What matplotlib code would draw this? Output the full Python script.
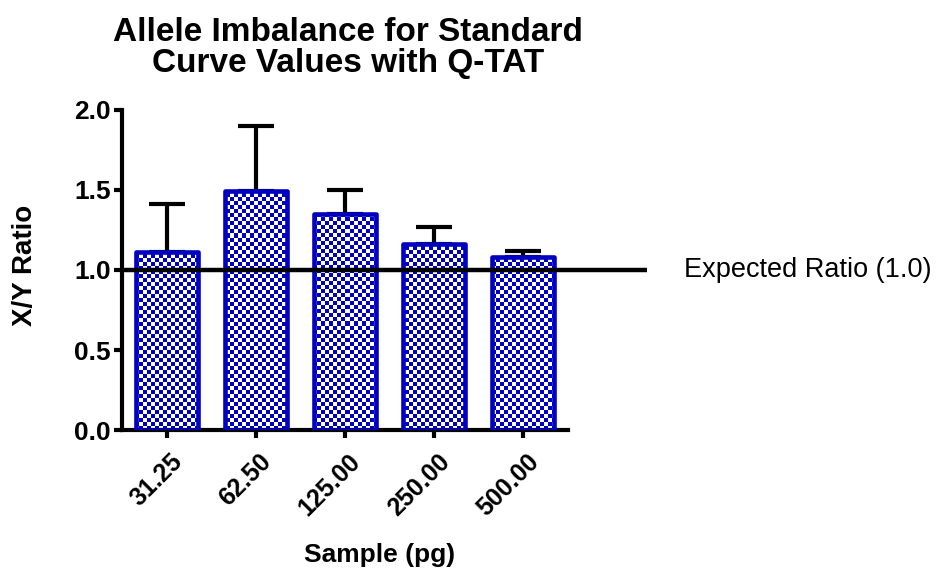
import numpy as np
import matplotlib
matplotlib.use('Agg')
import matplotlib.pyplot as plt
from matplotlib.transforms import ScaledTranslation

plt.rcParams['font.family'] = ['Liberation Sans', 'DejaVu Sans']

samples = ['31.25', '62.50', '125.00', '250.00', '500.00']
ratio = [1.11, 1.49, 1.35, 1.16, 1.08]
err_up = [0.30, 0.41, 0.15, 0.11, 0.04]
expected = 1.0

blue = '#0000C0'

fig = plt.figure(figsize=(9.4, 5.75), dpi=100)
ax = fig.add_axes([0.13, 0.252, 0.474, 0.557])

x = np.arange(len(samples))
ax.errorbar(x, ratio, yerr=[np.zeros(len(x)), err_up], fmt='none',
            ecolor='black', elinewidth=3, capsize=13, capthick=3, zorder=1)
bars = ax.bar(x, ratio, width=0.7, facecolor='none', edgecolor=blue,
              linewidth=3.3, joinstyle='round', zorder=3)

ax.set_xlim(-0.5, 4.5)
ax.set_ylim(0, 2.0)

# checkerboard fill, clipped to each bar
ny, nx = 80, 112
checker = (np.add.outer(np.arange(ny), np.arange(nx)) % 2).astype(float)
cmap = matplotlib.colors.ListedColormap(['white', blue])
for b in bars:
    im = ax.imshow(checker, cmap=cmap, extent=(-0.5, 4.5, 0, 2.0),
                   interpolation='nearest', aspect='auto', zorder=2)
    im.set_clip_path(b)

ax.plot([-0.5, 5.39], [expected, expected], color='black', lw=3.2,
        clip_on=False, zorder=4, solid_capstyle='butt')
ax.text(5.8, expected, 'Expected Ratio (1.0)', fontsize=19.5, va='center',
        ha='left')

for side in ['top', 'right']:
    ax.spines[side].set_visible(False)
for side in ['left', 'bottom']:
    ax.spines[side].set_linewidth(3)
ax.tick_params(width=3, length=6, pad=2)
ax.tick_params(axis='x', pad=14)

ax.set_xticks(x)
ax.set_xticklabels(samples, rotation=45, ha='right', va='center',
                   rotation_mode='anchor', fontsize=18, fontweight='bold')
ax.set_yticks([0, 0.5, 1.0, 1.5, 2.0])
ax.set_yticklabels(['0.0', '0.5', '1.0', '1.5', '2.0'], fontsize=19,
                   fontweight='bold')

# nudge the slanted labels right so their ends sit by the ticks
shift = ScaledTranslation(12 / 100, 0, fig.dpi_scale_trans)
for lab in ax.xaxis.get_majorticklabels():
    lab.set_transform(lab.get_transform() + shift)

ax.set_ylabel('X/Y Ratio', fontsize=20, fontweight='bold', va='center')
ax.yaxis.set_label_coords((25 - 122) / 446, (430 - 265) / 320)
ax.set_xlabel('Sample (pg)', fontsize=19, fontweight='bold', va='center')
ax.xaxis.set_label_coords((380 - 122) / 446, (430 - 555) / 320)
ax.set_title('Allele Imbalance for Standard\nCurve Values with Q-TAT',
             fontsize=24, fontweight='bold', pad=27, linespacing=1.0,
             x=(348 - 122) / 446)

fig.savefig('out.png', dpi=100)
